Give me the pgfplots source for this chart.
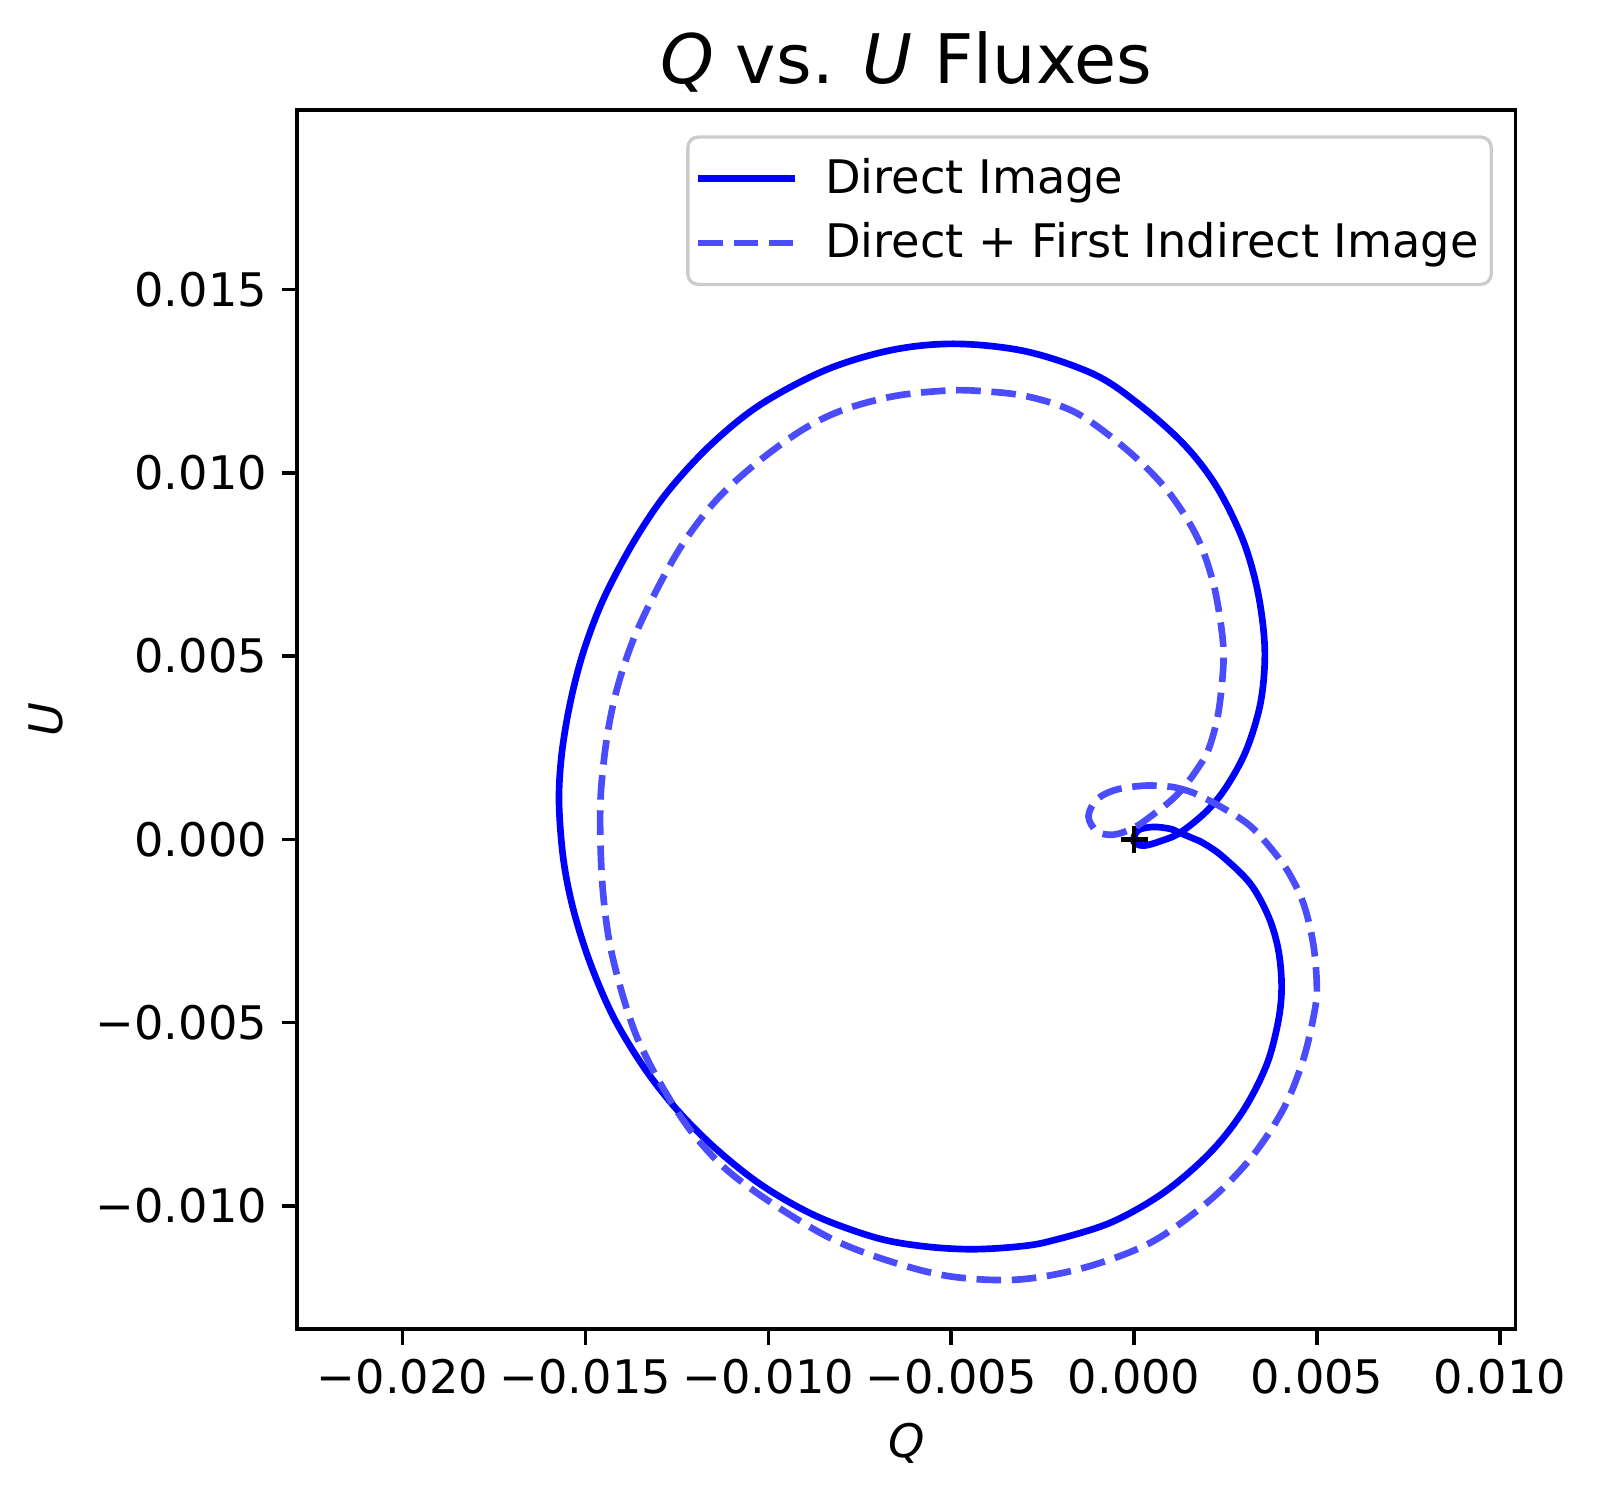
\documentclass[border=0pt]{standalone}
\usepackage{fontspec}
\setmainfont{DejaVu Sans}
\usepackage{pgfplots}
\pgfplotsset{compat=1.18}
\definecolor{dimblue}{rgb}{0.3,0.3,1}
\begin{document}
\begin{tikzpicture}
\begin{axis}[
  scale only axis, width=292.4pt, height=292.6pt,
  xmin=-0.02288, xmax=0.01042, ymin=-0.01336, ymax=0.01990,
  axis line style={line width=0.85pt},
  tick pos=left, tick align=outside, major tick length=3.7pt,
  tick style={line width=0.85pt, black},
  xtick={-0.02,-0.015,-0.01,-0.005,0,0.005,0.01},
  xticklabels={−0.020,−0.015,−0.010,−0.005,0.000,0.005,0.010},
  ytick={-0.01,-0.005,0,0.005,0.01,0.015},
  yticklabels={−0.010,−0.005,0.000,0.005,0.010,0.015},
  scaled ticks=false,
  ticklabel style={font=\fontsize{11.1}{13.3}\selectfont},
  xlabel={\textit{Q}}, ylabel={\textit{U}},
  label style={font=\fontsize{11.1}{13.3}\selectfont},
  xlabel style={at={([yshift=-27.5pt]rel axis cs:0.5,0)}, anchor=center},
  ylabel style={at={([xshift=-60.3pt]rel axis cs:0,0.5)}, anchor=center},
  title={\textit{Q} vs. \textit{U} Fluxes},
  every axis title/.style={at={(0.5,1)}, anchor=base, yshift=6.3pt, font=\fontsize{16.4}{20}\selectfont},
  legend style={at={(1,1)}, anchor=north east, xshift=-5.4pt, yshift=-6.1pt,
    draw=black!20, line width=0.8pt, rounded corners=2.5pt, fill=white,
    font=\fontsize{11.1}{13.3}\selectfont, inner xsep=1pt, inner ysep=3pt, row sep=1.5pt},
  legend cell align=left,
  legend image code/.code={\path[draw=none] (0pt,0pt) -- (30pt,0pt); \draw[#1] (1.5pt,0pt) -- (24.7pt,0pt);},
]
% Direct Image
\addplot[blue, line width=1.6pt, line join=round, smooth, tension=0.55] coordinates {
(0.00180,-0.00005) (0.00235,-0.00041) (0.00316,-0.00119) (0.00367,-0.00210)
(0.00394,-0.00301) (0.00403,-0.00401) (0.00394,-0.00495) (0.00362,-0.00615)
(0.00298,-0.00740) (0.00207,-0.00855) (0.00080,-0.00964) (-0.00066,-0.01046)
(-0.00230,-0.01096) (-0.00320,-0.01111) (-0.00446,-0.01118) (-0.00575,-0.01110)
(-0.00704,-0.01087) (-0.00868,-0.01028) (-0.01014,-0.00946) (-0.01141,-0.00846)
(-0.01250,-0.00737) (-0.01342,-0.00619) (-0.01424,-0.00483) (-0.01487,-0.00337)
(-0.01533,-0.00191) (-0.01560,-0.00055) (-0.01572,0.00100) (-0.01565,0.00230)
(-0.01542,0.00370) (-0.01506,0.00510) (-0.01451,0.00655) (-0.01369,0.00810)
(-0.01278,0.00945) (-0.01159,0.01075) (-0.01022,0.01186) (-0.00840,0.01282)
(-0.00658,0.01336) (-0.00485,0.01352) (-0.00294,0.01331) (-0.00112,0.01270)
(0.00007,0.01192) (0.00134,0.01080) (0.00225,0.00963) (0.00298,0.00815)
(0.00339,0.00670) (0.00357,0.00518) (0.00346,0.00376) (0.00307,0.00245)
(0.00253,0.00145) (0.00198,0.00077) (0.00125,0.00018)
(0.00071,-0.00005) (0.00025,-0.00017) (-0.00002,-0.00005)
(0.00011,0.00025) (0.00052,0.00034) (0.00098,0.00029) (0.00125,0.00018)
(0.00180,-0.00005)
};
% Direct + First Indirect Image
\addplot[dimblue, line width=1.6pt, dash pattern=on 5.9pt off 2.56pt, smooth, tension=0.55] coordinates {
(0.00107,0.00143) (0.00162,0.00127) (0.00235,0.00090) (0.00307,0.00045)
(0.00355,-0.00002) (0.00417,-0.00082) (0.00462,-0.00173) (0.00489,-0.00282)
(0.00499,-0.00391) (0.00494,-0.00464) (0.00462,-0.00601) (0.00407,-0.00737)
(0.00316,-0.00873) (0.00198,-0.00992) (0.00043,-0.01101) (-0.00139,-0.01169)
(-0.00321,-0.01201) (-0.00503,-0.01192) (-0.00667,-0.01151) (-0.00822,-0.01092)
(-0.00977,-0.01001) (-0.01114,-0.00901) (-0.01214,-0.00792) (-0.01296,-0.00664)
(-0.01360,-0.00537) (-0.01405,-0.00401) (-0.01437,-0.00264) (-0.01455,-0.00101)
(-0.01459,0.00100) (-0.01442,0.00272) (-0.01414,0.00409) (-0.01369,0.00545)
(-0.01305,0.00681) (-0.01232,0.00809) (-0.01141,0.00927) (-0.01032,0.01027)
(-0.00906,0.01118) (-0.00795,0.01172) (-0.00658,0.01209) (-0.00522,0.01224)
(-0.00430,0.01224) (-0.00294,0.01209) (-0.00157,0.01163) (-0.00020,0.01063)
(0.00089,0.00954) (0.00171,0.00827) (0.00216,0.00700) (0.00239,0.00572)
(0.00244,0.00481) (0.00230,0.00345) (0.00203,0.00245) (0.00171,0.00190)
(0.00134,0.00140) (0.00098,0.00104) (0.00052,0.00068) (-0.00002,0.00031)
(-0.00057,0.00013) (-0.00102,0.00022) (-0.00125,0.00063) (-0.00102,0.00109)
(-0.00048,0.00136) (0.00034,0.00147) (0.00107,0.00143)
};
\addplot[black, only marks, mark=+, mark size=3.2pt, mark options={line width=1.07pt}] coordinates {(0,0)};
\legend{Direct Image, Direct + First Indirect Image}
\end{axis}
\path ([shift={(-71.3pt,-42.1pt)}]current axis.south west) rectangle ([shift={(20.3pt,26.4pt)}]current axis.north east);
\end{tikzpicture}
\end{document}
